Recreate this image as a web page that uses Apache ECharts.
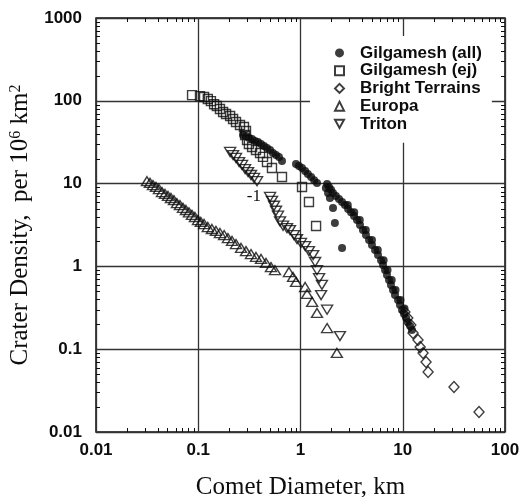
<!DOCTYPE html>
<html>
<head>
<meta charset="utf-8">
<script src="https://cdn.jsdelivr.net/npm/echarts@6/dist/echarts.min.js"></script>
<style>
  html, body { margin: 0; padding: 0; background: #fff; }
  #chart { width: 520px; height: 497px; }
</style>
</head>
<body>
<div id="chart"></div>
<script>
// Tick labels, one per decade
const xTickLabels = ['0.01', '0.1', '1', '10', '100'];
const yTickLabels = ['0.01', '0.1', '1', '10', '100', '1000'];

const seriesNames = ['Gilgamesh (all)', 'Gilgamesh (ej)', 'Bright Terrains', 'Europa', 'Triton'];

// [comet diameter (km), crater density (per 10^6 km^2)]
const gilgameshAll = [
  [0.274, 38.6], [0.293, 37.6], [0.313, 35.6], [0.336, 34.6], [0.359, 32.7], [0.384, 31.8],
  [0.411, 30.1], [0.440, 28.4], [0.470, 26.9], [0.504, 25.5], [0.538, 23.4], [0.576, 22.1],
  [0.616, 21.0], [0.659, 18.7],
  [0.904, 17.2], [0.966, 16.3], [1.035, 15.4], [1.11, 14.2], [1.18, 13.1], [1.27, 12.0],
  [1.36, 11.0], [1.45, 10.2],
  [1.77, 8.85], [1.82, 9.9], [1.86, 7.7], [1.90, 9.1], [1.94, 6.7], [1.99, 8.4], [2.08, 7.7],
  [2.08, 5.07], [2.17, 3.34], [2.22, 7.1], [2.38, 6.5], [2.55, 6.0], [2.55, 1.67], [2.72, 5.5],
  [2.92, 4.93], [3.12, 4.5], [3.34, 4.06], [3.57, 3.63], [3.82, 3.16], [4.08, 2.75], [4.37, 2.39],
  [4.68, 2.08], [5.00, 1.81], [5.36, 1.58], [5.73, 1.37], [6.13, 1.19], [6.41, 1.04], [6.71, 0.905],
  [7.01, 0.787], [7.34, 0.685], [7.67, 0.596], [8.03, 0.519], [8.40, 0.451], [8.99, 0.393],
  [9.40, 0.342], [9.84, 0.297], [10.3, 0.266], [10.8, 0.238], [11.2, 0.213], [11.8, 0.190],
  [12.3, 0.171],
  [2.9, 5.5], [3.35, 4.5], [3.8, 3.63], [4.35, 2.75], [5.0, 2.08], [5.7, 1.58], [6.5, 1.19],
  [7.1, 0.905], [7.8, 0.685], [8.5, 0.519], [9.5, 0.393], [10.4, 0.31]
];

const gilgameshEj = [
  [0.087, 117], [0.104, 114], [0.114, 111], [0.124, 105], [0.133, 99], [0.143, 91], [0.152, 86.5],
  [0.163, 79.6], [0.175, 73.2], [0.187, 69.2], [0.205, 65.5], [0.219, 60.3], [0.234, 55.4],
  [0.256, 51.0], [0.280, 48.2], [0.293, 43.2], [0.287, 38.6], [0.300, 33.6], [0.313, 30.1],
  [0.336, 27.7], [0.367, 25.5], [0.402, 23.4], [0.430, 21.0], [0.470, 18.2], [0.526, 15.4],
  [0.659, 12.0], [1.035, 9.1], [1.21, 6.0], [1.42, 3.08]
];

const brightTerrains = [
  [10.5, 0.281], [11.2, 0.238], [12.0, 0.196], [12.6, 0.157], [14.1, 0.129], [14.8, 0.106],
  [15.8, 0.090], [16.9, 0.070], [17.7, 0.053], [31.7, 0.035], [55.7, 0.0174]
];

const europa = [
  [0.0315, 10.7], [0.0337, 10.2], [0.0361, 9.6], [0.0386, 9.1], [0.0413, 8.6], [0.0442, 7.9],
  [0.0473, 7.5], [0.0506, 7.1], [0.0541, 6.7], [0.0579, 6.3], [0.0619, 5.8], [0.0662, 5.5],
  [0.0709, 5.1], [0.0758, 4.8], [0.0811, 4.5], [0.0868, 4.2], [0.0928, 3.95], [0.0995, 3.63],
  [0.106, 3.44], [0.114, 3.25], [0.124, 2.99], [0.136, 2.83], [0.149, 2.68], [0.163, 2.53],
  [0.179, 2.39], [0.195, 2.20], [0.214, 2.03], [0.234, 1.86], [0.262, 1.67], [0.293, 1.53],
  [0.328, 1.41], [0.367, 1.30], [0.411, 1.23], [0.460, 1.10], [0.514, 0.98], [0.563, 0.90],
  [0.771, 0.855], [0.845, 0.745], [0.904, 0.65], [1.11, 0.564], [1.16, 0.465], [1.30, 0.372],
  [1.45, 0.274], [1.82, 0.18], [2.27, 0.090]
];

const triton = [
  [0.205, 24.1], [0.219, 22.1], [0.234, 20.4], [0.251, 18.2], [0.268, 16.8], [0.287, 15.0],
  [0.307, 13.8], [0.328, 12.7], [0.351, 11.7], [0.376, 10.7],
  [0.504, 6.9], [0.526, 6.2], [0.551, 5.4], [0.576, 4.7], [0.602, 4.1], [0.631, 3.5],
  [0.675, 3.1], [0.738, 2.9], [0.789, 2.75], [0.863, 2.39], [0.924, 2.14], [1.01, 1.92],
  [1.11, 1.76], [1.21, 1.53], [1.33, 1.37], [1.39, 1.13], [1.45, 0.90], [1.52, 0.72],
  [1.62, 0.60], [1.59, 0.45], [1.82, 0.30], [2.43, 0.144]
];

// Slope annotation
const slopeNote = { text: '-1', at: [0.35, 6.9] };

const ink = '#0d0d0d';
const hollow = { color: 'rgba(0,0,0,0)', borderColor: ink, borderWidth: 1.4 };
const sans = '"Liberation Sans", Arial, sans-serif';
const serif = '"Liberation Serif", "Times New Roman", serif';

const decadeLabel = (labels, offset) => (v) => labels[Math.round(Math.log10(v)) + offset];

// Legend icons, one per series
const legendIcons = {
  'Gilgamesh (all)': 'circle',
  'Gilgamesh (ej)': 'rect',
  'Bright Terrains': 'diamond',
  'Europa': 'triangle',
  'Triton': 'path://M0,0L10,0L5,9Z'
};

const chart = echarts.init(document.getElementById('chart'), null, { renderer: 'canvas' });

chart.setOption({
  animation: false,
  backgroundColor: '#fff',
  grid: {
    left: 96, right: 15, top: 18, bottom: 65,
    outerBoundsMode: 'none', containLabel: false,
    show: true, borderColor: ink, borderWidth: 1.5, backgroundColor: 'transparent'
  },
  xAxis: {
    type: 'log', logBase: 10, min: 0.01, max: 100,
    name: 'Comet Diameter, km', nameLocation: 'middle', nameGap: 43,
    nameTextStyle: { fontFamily: serif, fontSize: 25, color: ink },
    axisLine: { show: false }, axisTick: { show: false },
    axisLabel: { formatter: decadeLabel(xTickLabels, 2), fontFamily: sans, fontWeight: 'bold', fontSize: 17, color: ink, margin: 10 },
    splitLine: { show: true, lineStyle: { color: '#333', width: 1.3 } }
  },
  yAxis: {
    type: 'log', logBase: 10, min: 0.01, max: 1000,
    name: 'Crater Density,  per 10{sup|6} km{sup|2}', nameLocation: 'middle', nameGap: 58, nameRotate: 90,
    nameTextStyle: {
      fontFamily: serif, fontSize: 25, color: ink,
      rich: { sup: { fontFamily: serif, fontSize: 16, color: ink, verticalAlign: 'top' } }
    },
    axisLine: { show: false }, axisTick: { show: false },
    axisLabel: { formatter: decadeLabel(yTickLabels, 2), fontFamily: sans, fontWeight: 'bold', fontSize: 17, color: ink, margin: 14 },
    splitLine: { show: true, lineStyle: { color: '#333', width: 1.3 } }
  },
  legend: {
    orient: 'vertical', left: 310, top: 36,
    data: seriesNames.map((name) => ({ name, icon: legendIcons[name] })),
    itemWidth: 9, itemHeight: 9, itemGap: 0,
    padding: [8, 10, 10, 24],
    backgroundColor: '#fff',
    textStyle: { fontFamily: sans, fontSize: 17, fontWeight: 'bold', color: ink, lineHeight: 17.75, padding: [0, 0, 0, 11] }
  },
  series: [
    { name: 'Gilgamesh (ej)', type: 'scatter', data: gilgameshEj, symbol: 'rect', symbolSize: 9, itemStyle: hollow },
    { name: 'Europa', type: 'scatter', data: europa, symbol: 'triangle', symbolSize: [11, 9], itemStyle: hollow },
    { name: 'Triton', type: 'scatter', data: triton, symbol: 'triangle', symbolRotate: 180, symbolSize: [11, 9], itemStyle: hollow },
    { name: 'Bright Terrains', type: 'scatter', data: brightTerrains, symbol: 'diamond', symbolSize: [10, 11], itemStyle: hollow },
    { name: 'Gilgamesh (all)', type: 'scatter', data: gilgameshAll, symbol: 'circle', symbolSize: 8, itemStyle: { color: ink } }
  ]
});

// Minor log ticks on all four sides, drawn inward, plus the slope annotation
const toPxX = (v) => chart.convertToPixel({ xAxisIndex: 0 }, v);
const toPxY = (v) => chart.convertToPixel({ yAxisIndex: 0 }, v);
const frameLeft = toPxX(0.01), frameRight = toPxX(100);
const frameTop = toPxY(1000), frameBottom = toPxY(0.01);
const tickLen = 4;
const marks = [];
const tickLine = (x1, y1, x2, y2) => marks.push({
  type: 'line', silent: true, z: 5,
  shape: { x1, y1, x2, y2 }, style: { stroke: ink, lineWidth: 1 }
});
for (let k = -2; k <= 1; k++) {
  for (let m = 2; m <= 9; m++) {
    const x = Math.round(toPxX(m * Math.pow(10, k))) + 0.5;
    tickLine(x, frameBottom, x, frameBottom - tickLen);
    tickLine(x, frameTop, x, frameTop + tickLen);
  }
}
for (let k = -2; k <= 2; k++) {
  for (let m = 2; m <= 9; m++) {
    const y = Math.round(toPxY(m * Math.pow(10, k))) + 0.5;
    tickLine(frameLeft, y, frameLeft + tickLen, y);
    tickLine(frameRight, y, frameRight - tickLen, y);
  }
}
const notePos = chart.convertToPixel({ xAxisIndex: 0, yAxisIndex: 0 }, slopeNote.at);
marks.push({
  type: 'text', silent: true, z: 6,
  x: notePos[0], y: notePos[1],
  style: { text: slopeNote.text, font: '17px ' + serif, fill: ink, align: 'center', verticalAlign: 'middle' }
});
chart.setOption({ graphic: marks });
</script>
</body>
</html>
